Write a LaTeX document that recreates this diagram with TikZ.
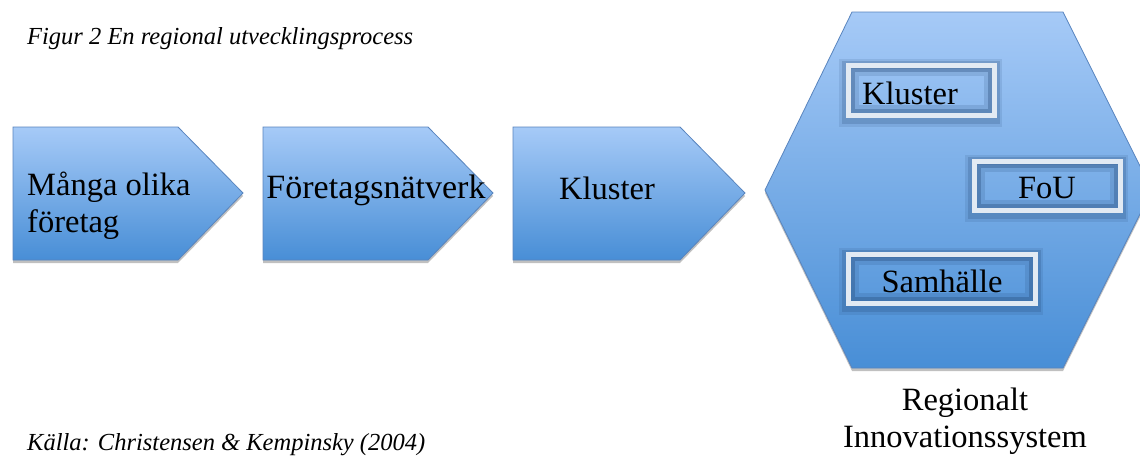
\documentclass[tikz,border=0pt]{standalone}
\usepackage{fontspec}
\setmainfont{Liberation Serif}
\usetikzlibrary{shadows,positioning,calc}
\definecolor{btop}{RGB}{166,202,247}
\definecolor{bbot}{RGB}{72,142,214}
\definecolor{bedge}{RGB}{88,132,190}
\definecolor{frame}{RGB}{226,234,243}
\definecolor{inshade}{RGB}{30,65,110}
\tikzset{
  blueshape/.style={draw=bedge, line width=0.8pt, top color=btop, bottom color=bbot,
    drop shadow={opacity=0.35, shadow xshift=0pt, shadow yshift=-3pt, fill=black!70}},
  bigtext/.style={font=\fontsize{32.5}{37}\selectfont, inner sep=0pt, align=left},
  captext/.style={font=\fontsize{24.5}{28}\selectfont\itshape, inner sep=0pt, anchor=base west},
  boxtext/.style={font=\fontsize{32.5}{37}\selectfont, inner sep=0pt},
}
\newcommand\innerbox[5]{%
  % #1 x1, #2 y1, #3 x2, #4 y2, #5 name
  \draw[inshade, opacity=0.12, line width=10pt] (#1-2,#2+1) rectangle (#3-0,#4+4);
  \draw[inshade, opacity=0.2, line width=6pt] (#1-1,#2+1) rectangle (#3-0,#4+3);
  \draw[frame, line width=5pt] (#1+2.5,#2+2.5) rectangle (#3-2.5,#4-2.5);
  \draw[inshade, opacity=0.15, line width=8pt] (#1+9,#2+9) rectangle (#3-9,#4-9);
  \draw[inshade, opacity=0.3, line width=4pt] (#1+7,#2+7) rectangle (#3-7,#4-7);
  \coordinate (#5) at ($(#1,#2)!0.5!(#3,#4)$);
}
\begin{document}
\begin{tikzpicture}[x=1pt,y=-1pt]
\clip (0,0) rectangle (1140,455);
\fill[white] (0,0) rectangle (1140,455);

% pentagons
\path[blueshape] (13,127) -- (178,127) -- (243,193) -- (178,260) -- (13,260) -- cycle;
\path[blueshape] (263,127) -- (428,127) -- (493,193) -- (428,260) -- (263,260) -- cycle;
\path[blueshape] (513,127) -- (680,127) -- (745,193) -- (680,260) -- (513,260) -- cycle;

% hexagon
\path[blueshape] (852,12) -- (1063,12) -- (1152,190) -- (1063,368) -- (852,368) -- (765,190) -- cycle;

% inner boxes
\innerbox{846}{63}{997}{118}{bk}
\innerbox{972}{159}{1123}{213}{bf}
\innerbox{846}{252}{1038}{306}{bs}

% texts
\node[bigtext, anchor=west] (t1) at (27,206) {Många olika\\företag};
\node[bigtext, font=\fontsize{34}{37}\selectfont, anchor=center] (t2) at (376,190) {Företagsnätverk};
\node[bigtext, anchor=center] (t3) at (607,188) {Kluster};

\node[boxtext] (k) at (910,93) {Kluster};
\node[boxtext] (f) at (1047,188) {FoU};
\node[boxtext] (s) at (942,281) {Samhälle};

\node[bigtext, align=center, anchor=center] (ris) at (965,421) {Regionalt\\Innovationssystem};

\node[captext] (title) at (27,44) {Figur 2 En regional utvecklingsprocess};
\node[captext] (src) at (27,450) {Källa: Christensen \& Kempinsky (2004)};
\end{tikzpicture}
\end{document}
